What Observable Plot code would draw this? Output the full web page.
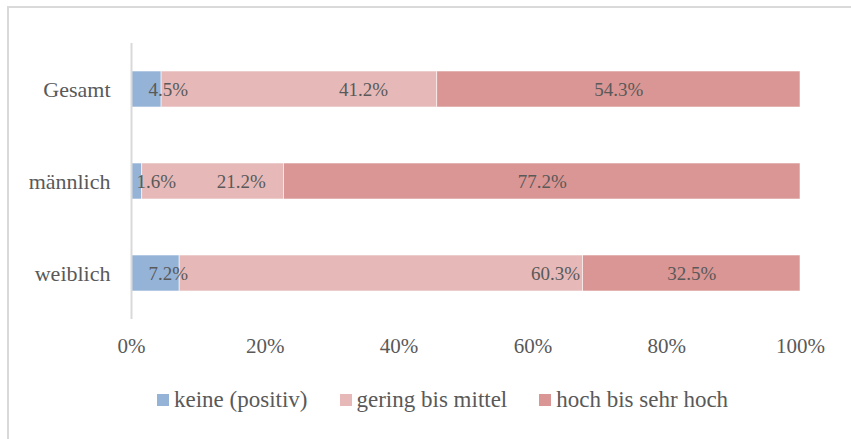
<!DOCTYPE html>
<html>
<head>
<meta charset="utf-8">
<script src="https://cdn.jsdelivr.net/npm/d3@7"></script>
<script src="https://cdn.jsdelivr.net/npm/@observablehq/plot@0.6"></script>
<style>
  html, body { margin: 0; padding: 0; background: #fff; }
  #wrap { position: relative; width: 851px; height: 439px; overflow: hidden; font-family: "Liberation Serif", "Times New Roman", serif; }
  #frame { position: absolute; left: 7px; top: 6px; width: 900px; height: 500px; border-left: 2px solid #d9d9d9; border-top: 2px solid #d9d9d9; box-sizing: border-box; }
  #chart { position: absolute; left: 0; top: 0; }
  #legend { position: absolute; left: 157px; top: 388px; display: flex; align-items: center; color: #595959; font-size: 23px; line-height: 24px; white-space: nowrap; }
  #legend .item { display: flex; align-items: center; margin-right: 32px; }
  #legend .sw { width: 12px; height: 12px; margin-right: 5px; }
</style>
</head>
<body>
<div id="wrap">
  <div id="frame"></div>
  <div id="chart"></div>
  <div id="legend"></div>
</div>
<script>
const categories = ["Gesamt", "männlich", "weiblich"];
const seriesNames = ["keine (positiv)", "gering bis mittel", "hoch bis sehr hoch"];
const keine = [4.5, 1.6, 7.2];
const gering = [41.2, 21.2, 60.3];
const hoch = [54.3, 77.2, 32.5];
// label anchor positions (in percent)
const keineLabelAt = [5.5, 3.7, 5.5];
const geringLabelAt = [34.7, 16.4, 63.4];
const xTicks = [0, 20, 40, 60, 80, 100];
const colors = ["#95B3D7", "#E6B9B8", "#D99694"];

const seriesValues = [keine, gering, hoch];
const rows = [];
categories.forEach((c, i) => {
  seriesNames.forEach((s, j) => {
    rows.push({category: c, series: s, value: seriesValues[j][i]});
  });
});

const labels = [];
categories.forEach((c, i) => {
  labels.push({category: c, x: keineLabelAt[i], text: keine[i].toFixed(1) + "%"});
  labels.push({category: c, x: geringLabelAt[i], text: gering[i].toFixed(1) + "%"});
  labels.push({category: c, x: keine[i] + gering[i] + hoch[i] / 2, text: hoch[i].toFixed(1) + "%"});
});

const plot = Plot.plot({
  width: 851,
  height: 376,
  marginLeft: 131,
  marginRight: 51,
  marginTop: 43,
  marginBottom: 57,
  style: {fontFamily: "'Liberation Serif', 'Times New Roman', serif", color: "#595959", background: "transparent"},
  x: {domain: [0, 100], ticks: xTicks, tickFormat: d => d + "%", tickSize: 0, tickPadding: 19, label: null},
  y: {domain: categories, paddingInner: 0.61, paddingOuter: 0.305, tickSize: 0, tickPadding: 21, label: null},
  color: {domain: seriesNames, range: colors},
  marks: [
    Plot.barX(rows, Plot.stackX({x: "value", y: "category", fill: "series", order: seriesNames, stroke: "white", strokeWidth: 0.8, strokeOpacity: 0.7})),
    Plot.ruleX([0], {stroke: "#d9d9d9", strokeWidth: 2}),
    Plot.text(labels, {x: "x", y: "category", text: "text", fill: "#595959", fontSize: 19, textAnchor: "middle"}),
    Plot.axisX({ticks: xTicks, tickFormat: d => d + "%", tickSize: 0, tickPadding: 19, fontSize: 21, label: null}),
    Plot.axisY({tickSize: 0, tickPadding: 21, fontSize: 22, label: null})
  ]
});
document.getElementById("chart").appendChild(plot);

const legend = document.getElementById("legend");
seriesNames.forEach((s, i) => {
  const item = document.createElement("div");
  item.className = "item";
  const sw = document.createElement("span");
  sw.className = "sw";
  sw.style.background = colors[i];
  const t = document.createElement("span");
  t.textContent = s;
  item.appendChild(sw);
  item.appendChild(t);
  legend.appendChild(item);
});
</script>
</body>
</html>
